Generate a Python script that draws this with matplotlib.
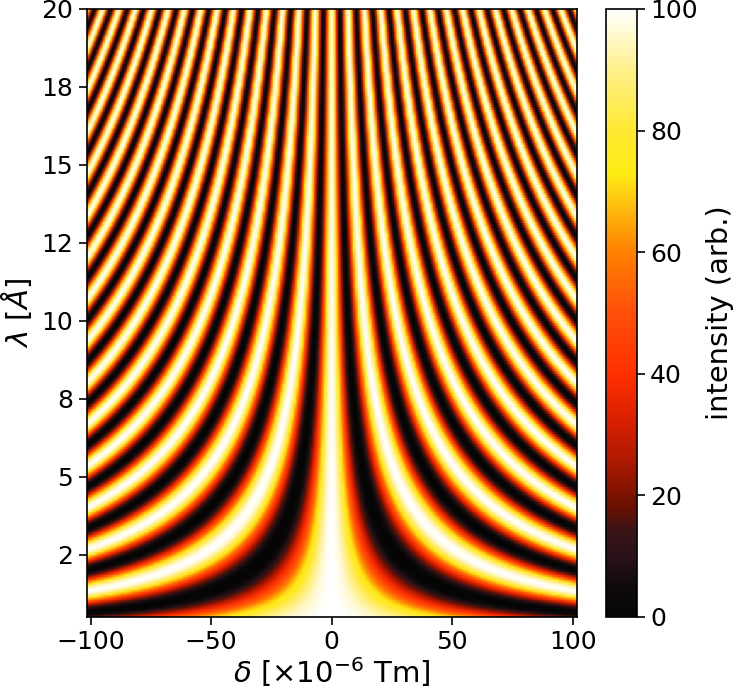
import numpy as np
import matplotlib
matplotlib.use('Agg')
import matplotlib.pyplot as plt
from matplotlib.colors import LinearSegmentedColormap

# axis ranges and ticks
delta_range = [-101.7, 101.7]
lambda_range = [0.5, 20.0]
delta_ticks = [-100, -50, 0, 50, 100]
lambda_ticks = [2.5, 5, 7.5, 10, 12.5, 15, 17.5, 20]
lambda_labels = ['2', '5', '8', '10', '12', '15', '18', '20']
cbar_ticks = [0, 20, 40, 60, 80, 100]

# the image is a computed fringe pattern, only its fringe period is read off:
# one full fringe per this much of delta*lambda
fringe_period = 135.7
max_intensity = 100.0

# colour bar
cmap_pos = [0, 5, 10, 14, 18, 25, 32, 40, 50, 60, 68, 73, 80, 90, 100]
cmap_col = ['#050505', '#0f0a0a', '#2a1219', '#3a1418', '#6a1000', '#a81800',
            '#d81f00', '#ff3000', '#ff4f0a', '#ff8000', '#ffc010', '#ffec14',
            '#ffe830', '#fff08a', '#ffffff']
fringe_cmap = LinearSegmentedColormap.from_list(
    'fringe', [(p / 100, c) for p, c in zip(cmap_pos, cmap_col)], N=512)

delta = np.linspace(delta_range[0], delta_range[1], 203)
wavelength = np.linspace(lambda_range[0], lambda_range[1], 243)
dd, ll = np.meshgrid(delta, wavelength)
intensity = max_intensity / 2 * (1 + np.cos(2 * np.pi * dd * ll / fringe_period))

fig = plt.figure(figsize=(7.34, 6.92), dpi=100)
W, H = 734, 692
ax = fig.add_axes([86.5 / W, 1 - 617 / H, (577 - 86.5) / W, (617 - 9) / H])
cax = fig.add_axes([606 / W, 1 - 617 / H, 31 / W, (617 - 9) / H])

mesh = ax.pcolormesh(dd, ll, intensity, cmap=fringe_cmap, vmin=0, vmax=100,
                     shading='gouraud', rasterized=True)
ax.set_xlim(delta_range)
ax.set_ylim(lambda_range)
ax.set_xticks(delta_ticks)
ax.set_yticks(lambda_ticks)
ax.set_yticklabels(lambda_labels)
ax.tick_params(labelsize=18, length=6, width=1.2)
ax.set_xlabel(r'$\delta$ [$\times 10^{-6}$ Tm]', fontsize=21, labelpad=1)
ax.set_ylabel(r'$\lambda$ [$\AA$]', fontsize=21)
ax.yaxis.set_label_coords(-0.108, 0.5)

cbar = fig.colorbar(mesh, cax=cax)
cbar.set_ticks(cbar_ticks)
cbar.ax.tick_params(labelsize=18, length=6, width=1.2)
cbar.set_label('intensity (arb.)', fontsize=20.8, labelpad=6)

for a in (ax, cax):
    for s in a.spines.values():
        s.set_linewidth(1.2)

fig.savefig('out.png', dpi=100)
